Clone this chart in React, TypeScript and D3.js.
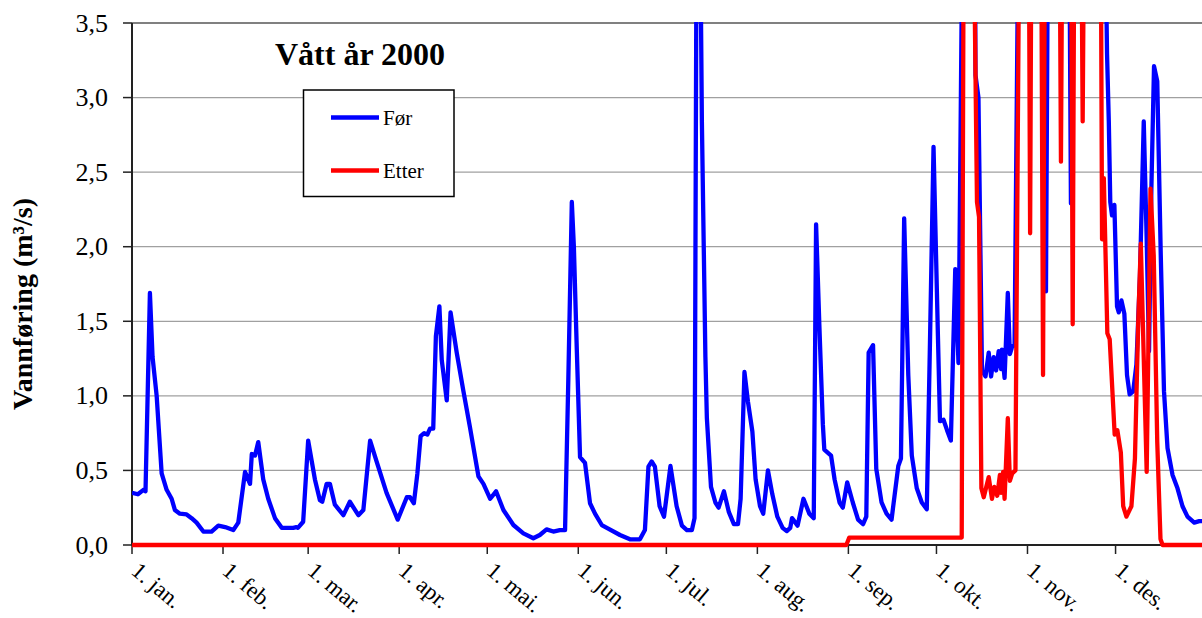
import React from "react";
import * as d3 from "d3";

// ---- data (day of year 2000, value m³/s) ----
const monthStarts = [0, 31, 60, 91, 121, 152, 182, 213, 244, 274, 305, 335];
const monthLabels = ["1. jan.", "1. feb.", "1. mar.", "1. apr.", "1. mai.", "1. jun.", "1. jul.", "1. aug.", "1. sep.", "1. okt.", "1. nov.", "1. des."];
const yTicks = [0, 0.5, 1, 1.5, 2, 2.5, 3, 3.5];

const forDays = [
  0, 2, 3.9, 4.6, 6.1, 7.0, 8.4, 10.1, 11.8, 13.5, 14.6, 16.3, 18.6, 20.3, 22.0, 24.3, 27.1, 29.4, 31.7, 34.5,
  36.2, 38.5, 40.2, 40.8, 41.9, 43.0, 44.7, 46.4, 48.7, 51.0, 54.9, 56.0, 56.5, 58.3, 60.0, 62.3, 64.0, 64.8, 66.3, 67.4,
  69.1, 72.0, 74.2, 77.1, 78.8, 81.1, 83.3, 86.7, 90.5, 93.6, 94.7, 96.0, 97.2, 98.3, 99.5, 100.6, 101.5, 102.6, 103.5, 104.7,
  105.5, 107.2, 108.5, 110.6, 112.8, 115.1, 118.0, 119.7, 122.0, 124.0, 126.5, 129.9, 133.3, 136.7, 138.9, 141.2, 143.5, 145.7, 147.5, 148.6,
  149.8, 150.5, 151.5, 152.6, 154.3, 156.0, 157.7, 160.0, 162.2, 166.2, 169.6, 173.0, 174.7, 175.9, 177.0, 178.1, 179.7, 181.2, 183.4, 185.5,
  187.3, 189.0, 190.7, 191.6, 192.3, 193.6, 194.1, 195.3, 195.8, 197.2, 198.7, 199.8, 201.6, 203.3, 205.0, 206.4, 207.3, 208.6, 209.8, 211.3,
  212.4, 213.9, 215.0, 216.6, 218.1, 219.8, 221.6, 223.0, 224.2, 224.8, 226.7, 228.7, 230.7, 232.2, 233.0, 234.1, 235.3, 235.8, 238.1, 239.3,
  241.0, 242.1, 243.6, 245.5, 247.3, 249.0, 250.1, 250.9, 252.4, 253.5, 255.3, 257.0, 258.7, 261.0, 261.9, 263.0, 264.4, 265.6, 267.3, 269.0,
  270.7, 271.8, 273.0, 274.5, 275.2, 276.4, 277.6, 278.9, 280.4, 281.5, 283.0, 287.0, 287.3, 288.3, 289.5, 290.7, 291.8, 292.6, 293.5, 294.3,
  295.2, 296.0, 296.3, 297.2, 298.3, 299.0, 299.8, 300.6, 302.3, 310.3, 311.3, 312.2, 319.0, 319.8, 320.6, 330.9, 332.1, 332.7, 333.2, 333.8,
  334.6, 335.5, 336.1, 337.0, 338.0, 338.9, 339.8, 341.0, 342.1, 343.3, 344.6, 345.6, 346.4, 347.2, 348.1, 349.2, 350.4, 351.5, 352.7, 354.4,
  356.1, 357.8, 359.5, 361.8, 363.5, 366
];
const forValues = [
  0.35, 0.34, 0.37, 0.36, 1.69, 1.26, 1.0, 0.48, 0.37, 0.31, 0.235, 0.21, 0.205, 0.18, 0.15, 0.09, 0.09, 0.13, 0.12, 0.10,
  0.15, 0.49, 0.41, 0.61, 0.60, 0.69, 0.44, 0.31, 0.18, 0.115, 0.115, 0.12, 0.115, 0.156, 0.70, 0.44, 0.30, 0.29, 0.41, 0.41,
  0.27, 0.20, 0.29, 0.20, 0.235, 0.70, 0.56, 0.35, 0.17, 0.32, 0.32, 0.28, 0.48, 0.73, 0.75, 0.74, 0.78, 0.78, 1.40, 1.60,
  1.24, 0.97, 1.56, 1.29, 1.04, 0.79, 0.46, 0.41, 0.31, 0.36, 0.235, 0.134, 0.078, 0.045, 0.067, 0.105, 0.09, 0.10, 0.10, 1.10,
  2.30, 2.00, 1.31, 0.59, 0.55, 0.28, 0.21, 0.134, 0.11, 0.067, 0.038, 0.038, 0.10, 0.525, 0.56, 0.525, 0.26, 0.19, 0.53, 0.26,
  0.13, 0.10, 0.10, 0.18, 4.2, 4.0, 2.84, 1.26, 0.85, 0.39, 0.285, 0.25, 0.36, 0.22, 0.14, 0.14, 0.31, 1.16, 0.96, 0.76,
  0.44, 0.26, 0.21, 0.50, 0.34, 0.19, 0.115, 0.093, 0.115, 0.18, 0.13, 0.31, 0.21, 0.18, 2.15, 1.48, 0.81, 0.64, 0.60, 0.44,
  0.285, 0.25, 0.42, 0.285, 0.17, 0.14, 0.19, 1.29, 1.34, 0.51, 0.285, 0.21, 0.17, 0.53, 0.58, 2.19, 1.14, 0.60, 0.38, 0.285,
  0.24, 1.37, 2.67, 1.40, 0.83, 0.84, 0.77, 0.70, 1.85, 1.22, 4.5, 4.5, 3.15, 3.0, 1.17, 1.13, 1.29, 1.13, 1.26, 1.17,
  1.30, 1.18, 1.31, 1.12, 1.69, 1.28, 1.33, 1.34, 5.0, 5.0, 1.7, 5.0, 5.0, 2.29, 5.0, 5.0, 3.29, 2.84, 2.30, 2.21,
  2.28, 1.60, 1.56, 1.64, 1.55, 1.14, 1.01, 1.03, 1.21, 1.80, 2.84, 2.05, 1.30, 2.39, 3.21, 3.11, 1.94, 1.03, 0.65, 0.47,
  0.38, 0.26, 0.19, 0.15, 0.16, 0.16
];

const etterDays = [
  0, 243.3, 244.3, 282.6, 283.4, 286.5, 287.8, 288.5, 289.3, 290.1, 291.8, 292.9, 293.7, 294.7, 295.6, 296.0, 296.7, 297.2, 298.3, 299.0,
  299.8, 300.9, 302.5, 303.2, 303.6, 304.0, 304.4, 305.5, 305.9, 306.3, 307.5, 308.0, 308.5, 309.6, 310.3, 311.0, 314.6, 315.0, 315.4, 316.0,
  316.4, 316.8, 317.5, 317.9, 318.3, 319.8, 320.4, 321.0, 322.0, 322.4, 322.8, 323.4, 323.8, 324.2, 330.0, 330.4,
  331.0, 332.2, 333.0, 334.7, 335.6, 336.8, 337.6, 338.7, 340.4, 341.6, 342.7, 343.6, 345.6, 346.9, 348.0, 349.2, 350.3, 351, 366
];
const etterValues = [
  0, 0, 0.05, 0.05, 5.0, 4.5, 2.3, 2.2, 0.38, 0.32, 0.455, 0.31, 0.39, 0.33, 0.47, 0.35, 0.49, 0.31, 0.85, 0.43,
  0.48, 0.50, 5.0, 4.0, 3.6, 4.0, 3.65, 4.0, 2.09, 4.0, 4.0, 3.6, 4.0, 4.5, 1.14, 4.5, 4.0, 3.6, 4.0, 4.0,
  2.57, 4.0, 4.0, 3.65, 4.0, 4.5, 1.48, 4.5, 4.0, 3.6, 4.0, 4.0, 2.84, 4.0, 4.0, 2.05,
  2.46, 1.42, 1.38, 0.74, 0.77, 0.62, 0.26, 0.19, 0.26, 0.58, 1.48, 2.02, 0.49, 2.39, 1.94, 0.69, 0.04, 0, 0
];

const seriesNames = ["Før", "Etter"];
const seriesColors = ["#0000ff", "#ff0000"];
const titleText = "Vått år 2000";
const yTitle = "Vannføring (m³/s)";

// ---- layout ----
const W = 1202;
const H = 618;
const left = 132;
const top = 23;
const bottom = 545;
const pxPerDay = 2.936;

export default function App() {
  const x = d3.scaleLinear().domain([0, 366]).range([left, left + 366 * pxPerDay]);
  const y = d3.scaleLinear().domain([0, 3.5]).range([bottom, top]);
  const line = d3
    .line<[number, number]>()
    .x((d) => x(d[0]))
    .y((d) => y(d[1]));
  const forData: [number, number][] = forDays.map((d, i) => [d, forValues[i]]);
  const etterData: [number, number][] = etterDays.map((d, i) => [d, etterValues[i]]);
  const fmt = (v: number) => d3.format(".1f")(v).replace(".", ",");
  const font = "'Liberation Serif', 'Times New Roman', serif";

  return (
    <svg
      width={W}
      height={H}
      style={{ position: "absolute", left: 0, top: 0, background: "#fff" }}
      fontFamily={font}
    >
      <defs>
        <clipPath id="plotclip">
          <rect x={left} y={top - 1} width={W - left} height={bottom - top + 6} />
        </clipPath>
      </defs>
      {/* gridlines */}
      {yTicks.filter((t) => t > 0 && t < 3.5).map((t) => (
        <line key={t} x1={left} x2={W} y1={y(t)} y2={y(t)} stroke="#a0a0a0" strokeWidth={1.3} />
      ))}
      <line x1={left} x2={W} y1={y(3.5)} y2={y(3.5)} stroke="#808080" strokeWidth={2.2} />
      {/* x axis */}
      <line x1={left} x2={W} y1={bottom} y2={bottom} stroke="#222" strokeWidth={2} />
      {monthStarts.map((m) => (
        <line key={m} x1={x(m)} x2={x(m)} y1={bottom} y2={bottom + 9} stroke="#222" strokeWidth={1.5} />
      ))}
      {monthStarts.map((m, i) => (
        <text
          key={"l" + m}
          transform={`translate(${x(m) - 2},${bottom + 28}) rotate(40)`}
          fontSize={23}
          fill="#000"
        >
          {monthLabels[i]}
        </text>
      ))}
      {/* y axis */}
      <line x1={left} x2={left} y1={top} y2={bottom} stroke="#222" strokeWidth={2} />
      {yTicks.map((t) => (
        <g key={"y" + t}>
          <line x1={left - 9} x2={left} y1={y(t)} y2={y(t)} stroke="#222" strokeWidth={1.5} />
          <text x={108} y={y(t) + 8.5} textAnchor="end" fontSize={26} fill="#000">
            {fmt(t)}
          </text>
        </g>
      ))}
      <text
        transform={`translate(32,${304}) rotate(-90)`}
        textAnchor="middle"
        fontSize={28}
        fontWeight="bold"
        fill="#000"
      >
        {yTitle}
      </text>
      {/* series */}
      <g clipPath="url(#plotclip)">
        <path d={line(forData) || ""} fill="none" stroke={seriesColors[0]} strokeWidth={4.3} strokeLinejoin="round" />
        <path d={line(etterData) || ""} fill="none" stroke={seriesColors[1]} strokeWidth={4.3} strokeLinejoin="round" />
      </g>
      {/* title */}
      <text x={275} y={65} fontSize={32} fontWeight="bold" fill="#000">
        {titleText}
      </text>
      {/* legend */}
      <rect x={303.5} y={90} width={150.5} height={106.5} fill="#fff" stroke="#000" strokeWidth={1.5} />
      {seriesNames.map((s, i) => (
        <g key={s}>
          <line x1={331} x2={379} y1={117.5 + i * 53} y2={117.5 + i * 53} stroke={seriesColors[i]} strokeWidth={4.3} />
          <text x={383} y={125 + i * 53} fontSize={21} fill="#000">
            {s}
          </text>
        </g>
      ))}
    </svg>
  );
}
